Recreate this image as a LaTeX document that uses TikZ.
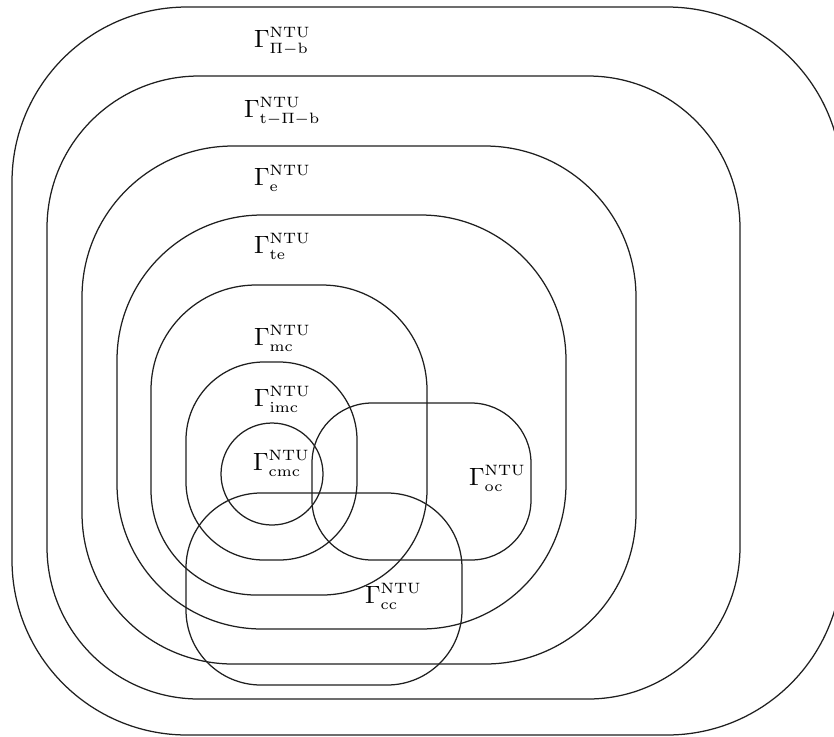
\documentclass[tikz,border=0pt]{standalone}
\DeclareMathSizes{10}{10}{6}{5}
\tikzset{
  setline/.style={draw=black!88, line width=0.5pt},
  setlabel/.style={anchor=base west, inner sep=0pt, outer sep=0pt}
}
\begin{document}
\begin{tikzpicture}[x=0.4pt, y=-0.4pt]
\useasboundingbox (0,0) rectangle (834,736);
% nested sets
\draw[setline, rounded corners=70pt] (12,7) rectangle (842,735);
\draw[setline, rounded corners=60.8pt] (47,76) rectangle (740,699);
\draw[setline, rounded corners=60.4pt] (82,146) rectangle (636,664);
\draw[setline, rounded corners=58pt] (117,215) rectangle (566,629);
\draw[setline, rounded corners=42pt] (151,285) rectangle (427,595);
\draw[setline, rounded corners=31.2pt] (186,362) rectangle (357,560);
\draw[setline] (272,474) circle (20.4pt);
\draw[setline, rounded corners=24pt] (312,403) rectangle (531,560);
\draw[setline, rounded corners=30pt] (186,493) rectangle (462,685);
% labels
\node[setlabel] (lpb)   at (254,47)  {$\Gamma^{\mathrm{NTU}}_{\Pi-\mathrm{b}}$};
\node[setlabel] (ltpb)  at (244,117) {$\Gamma^{\mathrm{NTU}}_{\mathrm{t}-\Pi-\mathrm{b}}$};
\node[setlabel] (le)    at (254,185) {$\Gamma^{\mathrm{NTU}}_{\mathrm{e}}$};
\node[setlabel] (lte)   at (254,253) {$\Gamma^{\mathrm{NTU}}_{\mathrm{te}}$};
\node[setlabel] (lmc)   at (254,345) {$\Gamma^{\mathrm{NTU}}_{\mathrm{mc}}$};
\node[setlabel] (limc)  at (254,406) {$\Gamma^{\mathrm{NTU}}_{\mathrm{imc}}$};
\node[setlabel] (lcmc)  at (253,470) {$\Gamma^{\mathrm{NTU}}_{\mathrm{cmc}}$};
\node[setlabel] (loc)   at (469,485) {$\Gamma^{\mathrm{NTU}}_{\mathrm{oc}}$};
\node[setlabel] (lcc)   at (365,603) {$\Gamma^{\mathrm{NTU}}_{\mathrm{cc}}$};
\end{tikzpicture}
\end{document}
